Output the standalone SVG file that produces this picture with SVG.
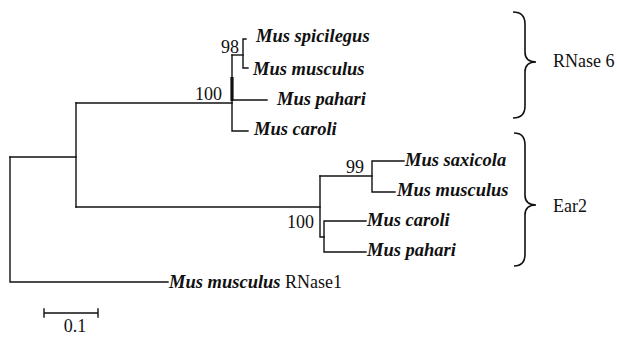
<svg xmlns="http://www.w3.org/2000/svg" width="617" height="337" viewBox="0 0 617 337">
<style>
.e{fill:none;stroke:#111;stroke-width:1.4;stroke-linecap:square}
.b{fill:none;stroke:#111;stroke-width:1.6}
.sp{font-family:"Liberation Serif","Times New Roman",serif;font-size:18.5px;font-weight:bold;font-style:italic;fill:#111}
.t{font-family:"Liberation Serif","Times New Roman",serif;font-size:18px;fill:#111}
</style>
<rect width="617" height="337" fill="#fff"/>
<g id="edges">
<path class="e" d="M10,157 V282 H168"/>
<path class="e" d="M10,157 H76"/>
<path class="e" d="M76,103 V207"/>
<path class="e" d="M76,103 H232"/>
<path class="e" d="M232,55 V131 H248"/>
<path d="M232,77 V101" stroke="#111" stroke-width="3.2" fill="none"/>
<path class="e" d="M232,100 H267"/>
<path class="e" d="M232,55 H243"/>
<path class="e" d="M246,39 H243 V68 H248"/>
<path class="e" d="M76,207 H320"/>
<path class="e" d="M320,176 V237 H324"/>
<path class="e" d="M320,176 H372"/>
<path class="e" d="M404,161 H372 V192 H395"/>
<path class="e" d="M366,221 H324 V252 H366"/>
</g>
<g id="n-rnase6-clade">
<text class="t" x="221" y="53">98</text>
<text class="t" x="195" y="100">100</text>
</g>
<g id="n-spicilegus"><text class="sp" x="256" y="42">Mus spicilegus</text></g>
<g id="n-musculus6"><text class="sp" x="253" y="75">Mus musculus</text></g>
<g id="n-pahari6"><text class="sp" x="277" y="105">Mus pahari</text></g>
<g id="n-caroli6"><text class="sp" x="254" y="135">Mus caroli</text></g>
<g id="n-ear2-clade">
<text class="t" x="346" y="173">99</text>
<text class="t" x="287" y="228">100</text>
</g>
<g id="n-saxicola"><text class="sp" x="405" y="166">Mus saxicola</text></g>
<g id="n-musculus2"><text class="sp" x="397" y="196">Mus musculus</text></g>
<g id="n-caroli2"><text class="sp" x="367" y="226">Mus caroli</text></g>
<g id="n-pahari2"><text class="sp" x="367" y="256">Mus pahari</text></g>
<g id="n-rnase1"><text x="169" y="288"><tspan class="sp">Mus musculus</tspan><tspan class="t"> RNase1</tspan></text></g>
<g id="brace-rnase6">
<path class="b" d="M513,12 Q525,12 525,24 V52 Q525,62 536,62 Q525,62 525,72 V106 Q525,118 513,118"/>
<text class="t" x="553" y="67">RNase 6</text>
</g>
<g id="brace-ear2">
<path class="b" d="M514,133 Q525,133 525,145 V195 Q525,205 536,205 Q525,205 525,215 V254 Q525,266 514,266"/>
<text class="t" x="553" y="212">Ear2</text>
</g>
<g id="scale">
<path class="e" d="M44,313 H98 M44,309 V317 M98,309 V317"/>
<text class="t" x="75" y="332" text-anchor="middle">0.1</text>
</g>
</svg>
